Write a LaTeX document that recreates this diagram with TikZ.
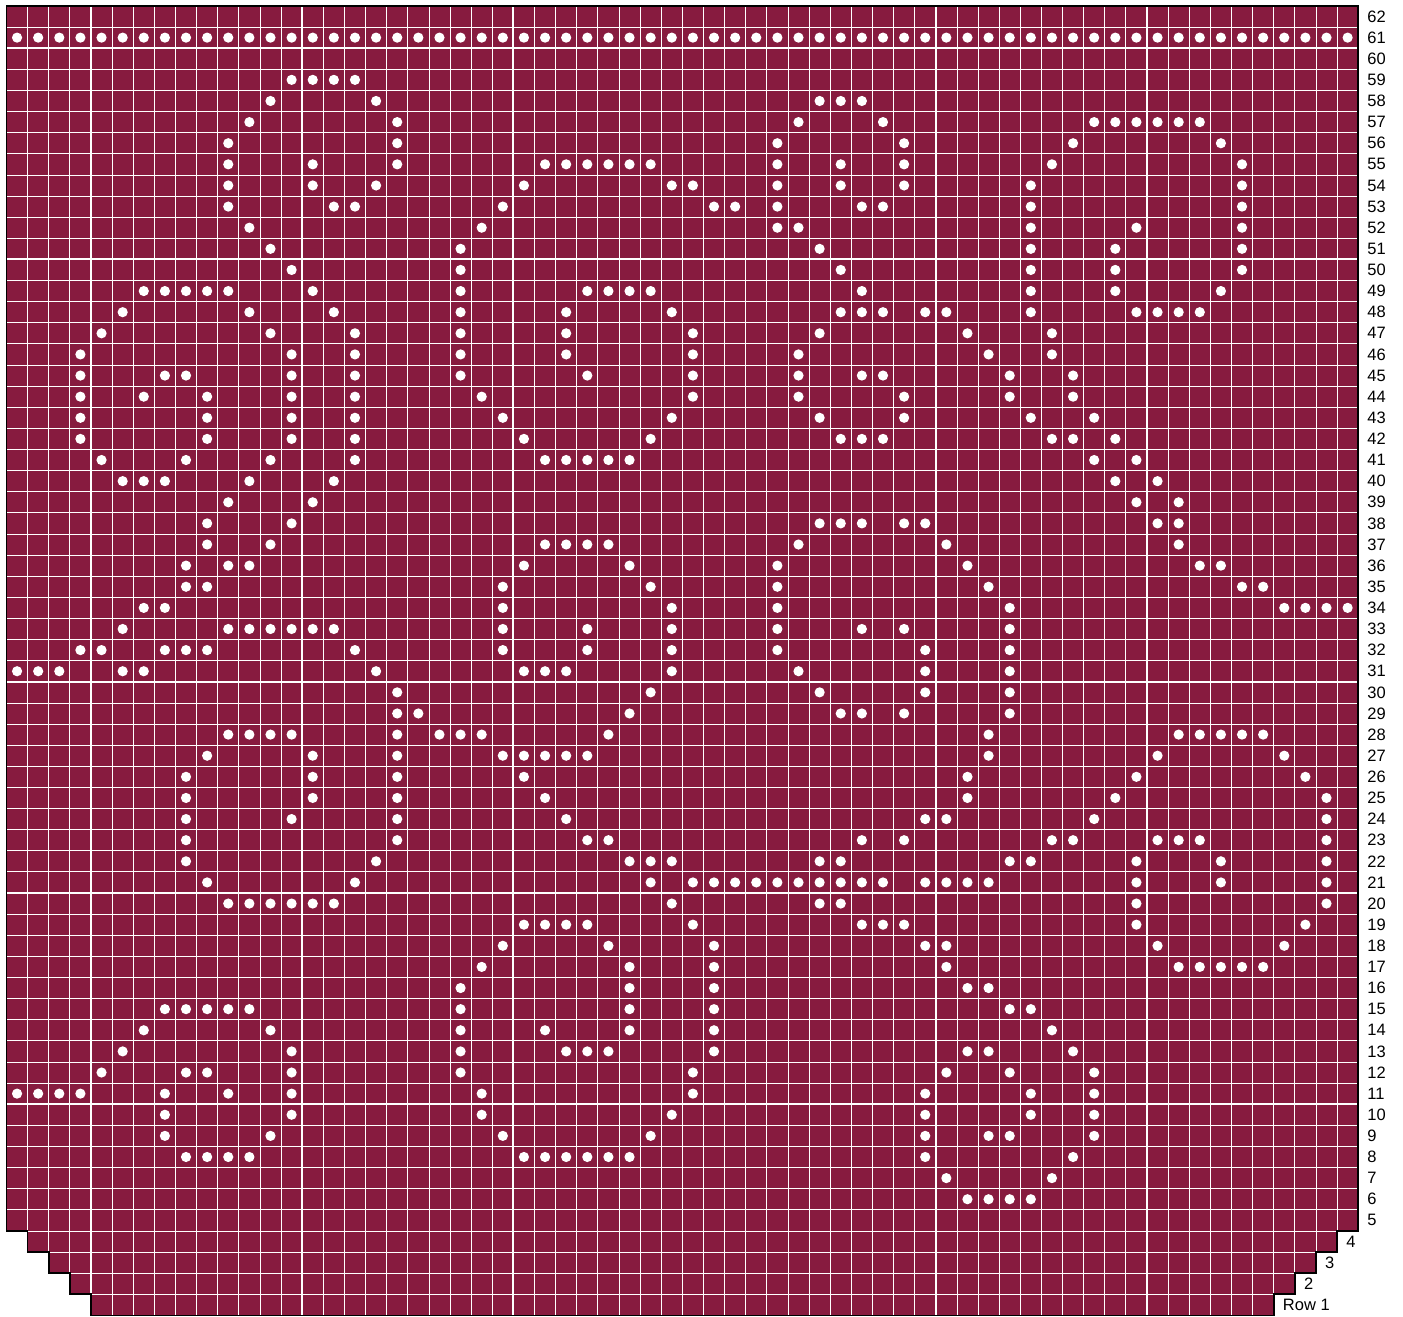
\documentclass[tikz,border=0pt]{standalone}
\usepackage{fontspec}
\setmainfont{Liberation Sans}
\definecolor{chartred}{RGB}{135,27,63}
\begin{document}
\begin{tikzpicture}[x=21.12pt,y=21.12pt,
  thinline/.style={white,line width=0.8pt},
  thickline/.style={white,line width=1.8pt},
  border/.style={black,line width=1.6pt,line join=miter},
  rowlab/.style={anchor=west,inner sep=0pt,font=\fontsize{16.5}{18}\selectfont}]
\useasboundingbox (-6.5pt,-1.6pt) rectangle (1396.5pt,1315.4pt);
\begin{scope}
\clip (0,62)--(64,62)--(64,4)--(63,4)--(63,3)--(62,3)--(62,2)--(61,2)--(61,1)--(60,1)--(60,0)--(4,0)--(4,1)--(3,1)--(3,2)--(2,2)--(2,3)--(1,3)--(1,4)--(0,4)--cycle;
\fill[chartred] (0,0) rectangle (64,62);
\foreach \i in {1,...,63} \draw[thinline] (\i,0) -- (\i,62);
\foreach \j in {1,...,61} \draw[thinline] (0,\j) -- (64,\j);
\foreach \i in {4,14,24,34,44,54} \draw[thickline] (\i,0) -- (\i,62);
\foreach \j in {10,20,30,40,50,60} \draw[thickline] (0,\j) -- (64,\j);
\end{scope}
\draw[border] (0,62)--(64,62)--(64,4)--(63,4)--(63,3)--(62,3)--(62,2)--(61,2)--(61,1)--(60,1)--(60,0)--(4,0)--(4,1)--(3,1)--(3,2)--(2,2)--(2,3)--(1,3)--(1,4)--(0,4)--cycle;
% dots
\foreach \c in {1,...,64} \fill[white] (\c-0.5,60.5) circle[radius=5.1pt];
\foreach \r/\cs in {
59/{14,15,16,17},
58/{13,18,39,40,41},
57/{12,19,38,42,52,53,54,55,56,57},
56/{11,19,37,43,51,58},
55/{11,15,19,26,27,28,29,30,31,37,40,43,50,59},
54/{11,15,18,25,32,33,37,40,43,49,59},
53/{11,16,17,24,34,35,37,41,42,49,59},
52/{12,23,37,38,49,54,59},
51/{13,22,39,49,53,59},
50/{14,22,40,49,53,59},
49/{7,8,9,10,11,15,22,28,29,30,31,41,49,53,58},
48/{6,12,16,22,27,32,40,41,42,44,45,49,54,55,56,57},
47/{5,13,17,22,27,33,39,46,50},
46/{4,14,17,22,27,33,38,47,50},
45/{4,8,9,14,17,22,28,33,38,41,42,48,51},
44/{4,7,10,14,17,23,33,38,43,48,51},
43/{4,10,14,17,24,32,39,43,49,52},
42/{4,10,14,17,25,31,40,41,42,50,51,53},
41/{5,9,13,17,26,27,28,29,30,52,54},
40/{6,7,8,12,16,53,55},
39/{11,15,54,56},
38/{10,14,39,40,41,43,44,55,56},
37/{10,13,26,27,28,29,38,45,56},
36/{9,11,12,25,30,37,46,57,58},
35/{9,10,24,31,37,47,59,60},
34/{7,8,24,32,37,48,61,62,63,64},
33/{6,11,12,13,14,15,16,24,28,32,37,41,43,48},
32/{4,5,8,9,10,17,24,28,32,37,44,48},
31/{1,2,3,6,7,18,25,26,27,32,38,44,48},
30/{19,31,39,44,48},
29/{19,20,30,40,41,43,48},
28/{11,12,13,14,19,21,22,23,29,47,56,57,58,59,60},
27/{10,15,19,24,25,26,27,28,47,55,61},
26/{9,15,19,25,46,54,62},
25/{9,15,19,26,46,53,63},
24/{9,14,19,27,44,45,52,63},
23/{9,19,28,29,41,43,50,51,55,56,57,63},
22/{9,18,30,31,32,39,40,48,49,54,58,63},
21/{10,17,31,33,34,35,36,37,38,39,40,41,42,44,45,46,47,54,58,63},
20/{11,12,13,14,15,16,32,39,40,54,63},
19/{25,26,27,28,33,41,42,43,54,62},
18/{24,29,34,44,45,55,61},
17/{23,30,34,45,56,57,58,59,60},
16/{22,30,34,46,47},
15/{8,9,10,11,12,22,30,34,48,49},
14/{7,13,22,26,30,34,50},
13/{6,14,22,27,28,29,34,46,47,51},
12/{5,9,10,14,22,33,45,48,52},
11/{1,2,3,4,8,11,14,23,33,44,49,52},
10/{8,14,23,32,44,49,52},
9/{8,13,24,31,44,47,48,52},
8/{9,10,11,12,25,26,27,28,29,30,44,51},
7/{45,50},
6/{46,47,48,49}}
{\foreach \c in \cs \fill[white] (\c-0.5,\r-0.5) circle[radius=5.1pt];}
% row labels
\foreach \r in {5,...,62} \node[rowlab] (lab\r) at (64.43,\r-0.5) {\r};
\node[rowlab] (lab4) at (63.43,3.5) {4};
\node[rowlab] (lab3) at (62.43,2.5) {3};
\node[rowlab] (lab2) at (61.43,1.5) {2};
\node[rowlab] (lab1) at (60.43,0.5) {Row 1};
\end{tikzpicture}
\end{document}
